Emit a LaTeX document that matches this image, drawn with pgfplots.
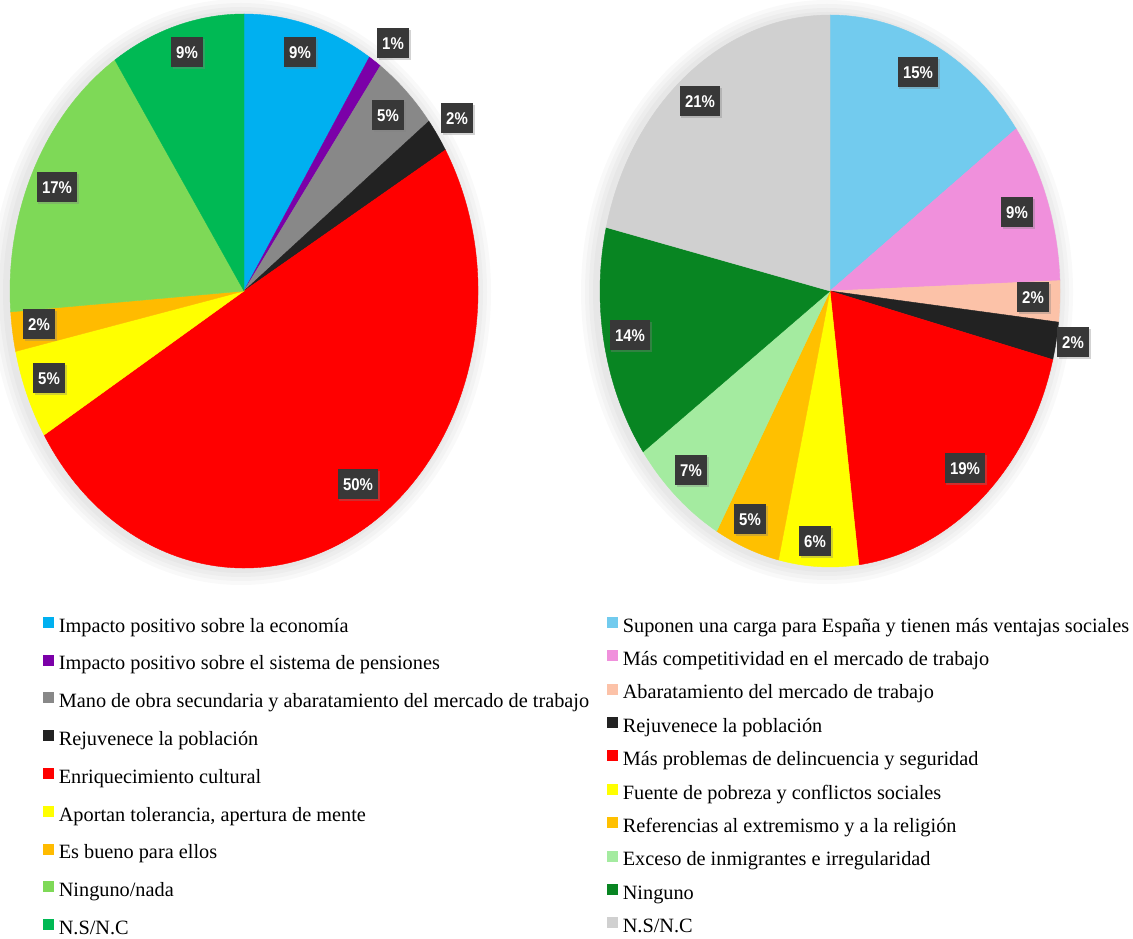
\documentclass[border=0pt]{standalone}
\usepackage{fontspec}
\setmainfont{Liberation Serif}
\newfontfamily\lblfont[FakeStretch=0.88]{Liberation Sans}
\usepackage{pgfplots}
\usepackage{pgfplotstable}
\pgfplotsset{compat=1.18}
\usetikzlibrary{shadows}

% left pie colours
\definecolor{lA}{HTML}{00B0F0}
\definecolor{lB}{HTML}{7B00A8}
\definecolor{lC}{HTML}{888888}
\definecolor{lD}{HTML}{222222}
\definecolor{lE}{HTML}{FF0000}
\definecolor{lF}{HTML}{FFFF00}
\definecolor{lG}{HTML}{FFBB00}
\definecolor{lH}{HTML}{7ED957}
\definecolor{lI}{HTML}{00B954}
% right pie colours
\definecolor{rA}{HTML}{72CBEE}
\definecolor{rB}{HTML}{F090DC}
\definecolor{rC}{HTML}{FCC2A8}
\definecolor{rD}{HTML}{222222}
\definecolor{rE}{HTML}{FF0000}
\definecolor{rF}{HTML}{FFFF00}
\definecolor{rG}{HTML}{FFC000}
\definecolor{rH}{HTML}{A4EBA0}
\definecolor{rI}{HTML}{088522}
\definecolor{rJ}{HTML}{D0D0D0}

% pct = share, lx/ly = label centre in picture pixels (y from top)
\pgfplotstableread{
pct  col lx   ly  lab
9.0  lA  300  52  9
0.9  lB  393  43  1
4.6  lC  388  115 5
2.0  lD  457  118 2
49.8 lE  358  484 50
5.2  lF  49   378 5
2.3  lG  39   324 2
16.9 lH  57   187 17
9.3  lI  187  52  9
}\leftdata

\pgfplotstableread{
pct  col lx   ly  lab
15.0 rA  918  72  15
9.4  rB  1017 212 9
2.4  rC  1033 297 2
2.2  rD  1073 342 2
19.0 rE  965  468 19
5.6  rF  815  541 6
4.6  rG  750  519 5
6.9  rH  691  470 7
13.6 rI  630  335 14
21.3 rJ  700  101 21
}\rightdata

\tikzset{
lbl/.style={fill=black!78, text=white, font=\lblfont\bfseries\fontsize{8.5}{9}\selectfont,
  inner xsep=2.6pt, inner ysep=0pt, minimum height=15pt, text height=6.2pt, text depth=0pt,
  drop shadow={shadow xshift=0.8pt, shadow yshift=-0.8pt, opacity=0.35}},
}

% #1 table, #2 #3 centre (axis units), #4 #5 radii
\newcommand\drawpie[5]{%
  \foreach \k in {8,6,4,2}{%
    \edef\tmp{\noexpand\fill[black, opacity=0.025] (axis cs:#2-3,#3-1) ellipse [x radius=#4+\k pt, y radius=#5+\k pt];}\tmp
  }%
  \pgfplotstablegetrowsof{#1}%
  \pgfmathtruncatemacro\nrows{\pgfplotsretval-1}%
  \def\cum{0}%
  \pgfplotsforeachungrouped \i in {0,...,\nrows}{%
    \pgfplotstablegetelem{\i}{pct}\of{#1}\let\p\pgfplotsretval
    \pgfplotstablegetelem{\i}{col}\of{#1}\let\c\pgfplotsretval
    \pgfmathsetmacro\aA{90-3.6*\cum}%
    \pgfmathsetmacro\cum{\cum+\p}%
    \pgfmathsetmacro\aB{90-3.6*\cum}%
    \edef\tmp{\noexpand\fill[\c, draw=\c, line width=0.2pt] (axis cs:#2,#3) -- ++(\aA:#4 and #5)
      arc[start angle=\aA, end angle=\aB, x radius=#4, y radius=#5] -- cycle;}\tmp
  }%
  \pgfplotsforeachungrouped \i in {0,...,\nrows}{%
    \pgfplotstablegetelem{\i}{lx}\of{#1}\let\lx\pgfplotsretval
    \pgfplotstablegetelem{\i}{ly}\of{#1}\pgfmathsetmacro\ly{938-\pgfplotsretval}%
    \pgfplotstablegetelem{\i}{lab}\of{#1}\let\lab\pgfplotsretval
    \edef\tmp{\noexpand\node[lbl] at (axis cs:\lx,\ly) {\lab\noexpand\%};}\tmp
  }%
}

\newcommand\sq[1]{\addlegendimage{legend image code/.code={\fill[#1] (0pt,-0.3pt) rectangle (5pt,4.7pt);}}}

\pgfplotsset{
  canvas/.style={at={(0,0)}, anchor=south west, width=566.5pt, height=469pt, scale only axis,
    xmin=0, xmax=1133, ymin=0, ymax=938, hide axis, clip=false},
  leg/.style={legend cell align=left,
    legend style={anchor=north west, draw=none, fill=none, inner sep=0pt, outer sep=0pt,
      font=\fontsize{10.15}{12}\selectfont, column sep=2.5pt, row sep=#1,
      nodes={inner sep=0pt, text height=8pt, text depth=2.5pt}}},
}

\begin{document}
\begin{tikzpicture}
\path[use as bounding box] (0,0) rectangle (566.5pt,469pt);

\begin{axis}[canvas, leg=8.4pt, legend style={at={(axis cs:43,322)}}]
\drawpie{\leftdata}{244}{647}{117pt}{138.5pt}
\sq{lA}\addlegendentry{Impacto positivo sobre la economía}
\sq{lB}\addlegendentry{Impacto positivo sobre el sistema de pensiones}
\sq{lC}\addlegendentry{Mano de obra secundaria y abaratamiento del mercado de trabajo}
\sq{lD}\addlegendentry{Rejuvenece la población}
\sq{lE}\addlegendentry{Enriquecimiento cultural}
\sq{lF}\addlegendentry{Aportan tolerancia, apertura de mente}
\sq{lG}\addlegendentry{Es bueno para ellos}
\sq{lH}\addlegendentry{Ninguno/nada}
\sq{lI}\addlegendentry{N.S/N.C}
\end{axis}

\begin{axis}[canvas, leg=6.2pt, legend style={at={(axis cs:607,322)}}]
\drawpie{\rightdata}{830}{647}{115pt}{138pt}
\sq{rA}\addlegendentry{Suponen una carga para España y tienen más ventajas sociales}
\sq{rB}\addlegendentry{Más competitividad en el mercado de trabajo}
\sq{rC}\addlegendentry{Abaratamiento del mercado de trabajo}
\sq{rD}\addlegendentry{Rejuvenece la población}
\sq{rE}\addlegendentry{Más problemas de delincuencia y seguridad}
\sq{rF}\addlegendentry{Fuente de pobreza y conflictos sociales}
\sq{rG}\addlegendentry{Referencias al extremismo y a la religión}
\sq{rH}\addlegendentry{Exceso de inmigrantes e irregularidad}
\sq{rI}\addlegendentry{Ninguno}
\sq{rJ}\addlegendentry{N.S/N.C}
\end{axis}
\end{tikzpicture}
\end{document}
